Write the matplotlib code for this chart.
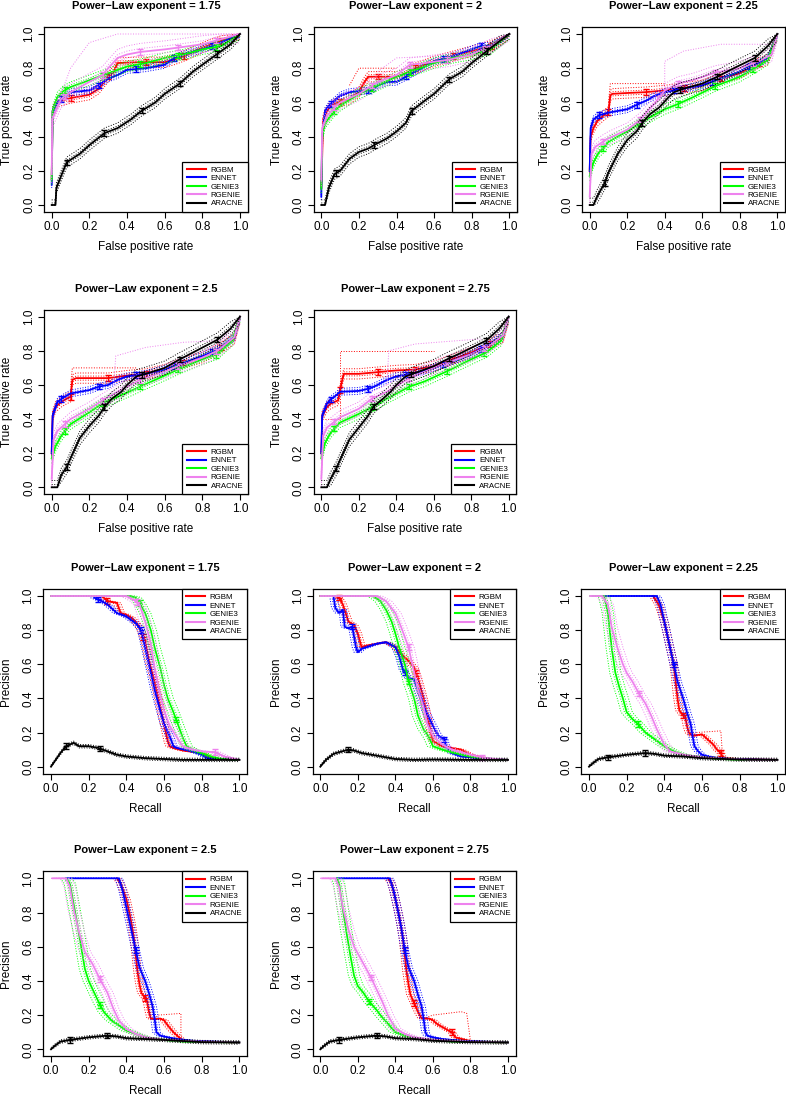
import numpy as np
import matplotlib
matplotlib.use('Agg')
import matplotlib.pyplot as plt
from matplotlib.lines import Line2D

plt.rcParams['font.family'] = ['Liberation Sans', 'DejaVu Sans']

methods = ['RGBM', 'ENNET', 'GENIE3', 'RGENIE', 'ARACNE']
colors = ['#FF0000', '#0000FF', '#00FF00', '#EE82EE', '#000000']

# ---- ROC curves (FPR, TPR) ----
roc_175 = {
    'RGBM': [(0, 0.15), (0.005, 0.55), (0.03, 0.6), (0.05, 0.61), (0.1, 0.625), (0.2, 0.645), (0.25, 0.68), (0.3, 0.75), (0.33, 0.78), (0.35, 0.83), (0.45, 0.835), (0.6, 0.835), (0.65, 0.85), (0.7, 0.87), (0.8, 0.92), (0.9, 0.96), (1, 1)],
    'ENNET': [(0, 0.12), (0.005, 0.55), (0.03, 0.6), (0.05, 0.62), (0.1, 0.66), (0.2, 0.67), (0.25, 0.7), (0.3, 0.74), (0.35, 0.76), (0.4, 0.79), (0.5, 0.8), (0.6, 0.82), (0.65, 0.86), (0.7, 0.88), (0.8, 0.91), (0.9, 0.95), (1, 1)],
    'GENIE3': [(0, 0.15), (0.005, 0.55), (0.03, 0.63), (0.06, 0.665), (0.1, 0.69), (0.2, 0.73), (0.3, 0.77), (0.4, 0.81), (0.5, 0.83), (0.6, 0.86), (0.7, 0.88), (0.8, 0.91), (0.9, 0.93), (1, 1)],
    'RGENIE': [(0, 0.18), (0.003, 0.5), (0.05, 0.62), (0.1, 0.66), (0.2, 0.72), (0.27, 0.76), (0.3, 0.8), (0.35, 0.86), (0.4, 0.88), (0.47, 0.895), (0.6, 0.91), (0.67, 0.92), (0.8, 0.94), (0.9, 0.97), (1, 1)],
    'ARACNE': [(0, 0), (0.02, 0), (0.025, 0.1), (0.05, 0.17), (0.08, 0.25), (0.15, 0.3), (0.2, 0.35), (0.28, 0.42), (0.35, 0.45), (0.42, 0.5), (0.47, 0.545), (0.55, 0.6), (0.6, 0.65), (0.68, 0.71), (0.75, 0.78), (0.85, 0.86), (0.9, 0.9), (0.95, 0.94), (1, 1)],
}
roc_200 = {
    'RGBM': [(0, 0.1), (0.01, 0.5), (0.03, 0.55), (0.05, 0.58), (0.1, 0.605), (0.15, 0.62), (0.2, 0.66), (0.23, 0.72), (0.25, 0.75), (0.3, 0.75), (0.4, 0.75), (0.45, 0.77), (0.5, 0.8), (0.6, 0.84), (0.7, 0.87), (0.8, 0.9), (0.9, 0.93), (1, 1)],
    'ENNET': [(0, 0.05), (0.005, 0.4), (0.02, 0.55), (0.04, 0.58), (0.07, 0.61), (0.1, 0.64), (0.15, 0.66), (0.2, 0.665), (0.27, 0.67), (0.3, 0.7), (0.35, 0.72), (0.4, 0.72), (0.45, 0.75), (0.5, 0.78), (0.6, 0.84), (0.7, 0.87), (0.8, 0.91), (0.85, 0.93), (0.9, 0.93), (1, 1)],
    'GENIE3': [(0, 0.1), (0.005, 0.4), (0.02, 0.48), (0.07, 0.55), (0.1, 0.58), (0.2, 0.65), (0.3, 0.7), (0.4, 0.75), (0.5, 0.79), (0.6, 0.83), (0.7, 0.86), (0.8, 0.88), (0.9, 0.91), (1, 1)],
    'RGENIE': [(0, 0.15), (0.005, 0.45), (0.03, 0.52), (0.07, 0.57), (0.1, 0.6), (0.2, 0.65), (0.3, 0.72), (0.4, 0.76), (0.47, 0.82), (0.55, 0.83), (0.68, 0.85), (0.8, 0.88), (0.9, 0.93), (1, 1)],
    'ARACNE': [(0, 0), (0.02, 0), (0.04, 0.1), (0.07, 0.18), (0.1, 0.2), (0.15, 0.27), (0.2, 0.31), (0.25, 0.33), (0.28, 0.35), (0.35, 0.39), (0.4, 0.43), (0.45, 0.48), (0.48, 0.55), (0.55, 0.61), (0.6, 0.65), (0.68, 0.735), (0.75, 0.78), (0.8, 0.83), (0.88, 0.9), (0.95, 0.96), (1, 1)],
}
roc_225 = {
    'RGBM': [(0, 0.2), (0.005, 0.4), (0.02, 0.45), (0.04, 0.49), (0.07, 0.52), (0.1, 0.545), (0.11, 0.64), (0.12, 0.65), (0.2, 0.655), (0.3, 0.66), (0.4, 0.67), (0.5, 0.685), (0.6, 0.7), (0.7, 0.74), (0.8, 0.77), (0.9, 0.83), (0.95, 0.85), (1, 1)],
    'ENNET': [(0, 0.2), (0.005, 0.45), (0.02, 0.5), (0.05, 0.525), (0.1, 0.54), (0.2, 0.56), (0.25, 0.585), (0.3, 0.61), (0.35, 0.64), (0.4, 0.66), (0.5, 0.68), (0.6, 0.7), (0.7, 0.74), (0.8, 0.78), (0.85, 0.81), (0.9, 0.83), (0.95, 0.86), (1, 1)],
    'GENIE3': [(0, 0.17), (0.02, 0.25), (0.05, 0.31), (0.07, 0.33), (0.1, 0.37), (0.2, 0.43), (0.3, 0.5), (0.4, 0.56), (0.47, 0.59), (0.55, 0.63), (0.67, 0.695), (0.8, 0.75), (0.88, 0.8), (0.95, 0.85), (1, 1)],
    'RGENIE': [(0, 0.05), (0.01, 0.3), (0.03, 0.34), (0.07, 0.37), (0.1, 0.39), (0.2, 0.44), (0.27, 0.5), (0.35, 0.6), (0.4, 0.67), (0.47, 0.71), (0.55, 0.73), (0.67, 0.775), (0.8, 0.8), (0.9, 0.84), (0.97, 0.88), (1, 1)],
    'ARACNE': [(0, 0), (0.02, 0), (0.04, 0.05), (0.08, 0.13), (0.1, 0.19), (0.15, 0.3), (0.2, 0.38), (0.25, 0.43), (0.28, 0.48), (0.32, 0.53), (0.37, 0.57), (0.42, 0.63), (0.45, 0.66), (0.5, 0.68), (0.6, 0.71), (0.68, 0.75), (0.75, 0.79), (0.88, 0.86), (0.95, 0.93), (1, 1)],
}
roc_250 = {
    'RGBM': [(0, 0.2), (0.005, 0.42), (0.02, 0.47), (0.05, 0.5), (0.08, 0.52), (0.1, 0.53), (0.11, 0.63), (0.13, 0.64), (0.3, 0.64), (0.4, 0.655), (0.5, 0.665), (0.6, 0.69), (0.7, 0.73), (0.8, 0.76), (0.9, 0.82), (0.97, 0.87), (1, 1)],
    'ENNET': [(0, 0.2), (0.005, 0.42), (0.03, 0.5), (0.06, 0.525), (0.1, 0.55), (0.2, 0.57), (0.25, 0.59), (0.3, 0.6), (0.35, 0.63), (0.4, 0.65), (0.5, 0.665), (0.6, 0.69), (0.7, 0.73), (0.8, 0.77), (0.9, 0.82), (0.97, 0.88), (1, 1)],
    'GENIE3': [(0, 0.17), (0.02, 0.24), (0.05, 0.3), (0.07, 0.33), (0.1, 0.37), (0.2, 0.44), (0.28, 0.5), (0.35, 0.53), (0.47, 0.59), (0.55, 0.63), (0.67, 0.69), (0.8, 0.75), (0.88, 0.78), (0.96, 0.86), (1, 1)],
    'RGENIE': [(0, 0.05), (0.01, 0.28), (0.03, 0.33), (0.07, 0.37), (0.1, 0.4), (0.2, 0.46), (0.27, 0.51), (0.35, 0.56), (0.47, 0.63), (0.6, 0.68), (0.67, 0.71), (0.8, 0.76), (0.88, 0.8), (0.97, 0.88), (1, 1)],
    'ARACNE': [(0, 0), (0.03, 0), (0.05, 0.07), (0.08, 0.12), (0.1, 0.17), (0.15, 0.29), (0.2, 0.36), (0.25, 0.42), (0.28, 0.47), (0.32, 0.52), (0.37, 0.56), (0.4, 0.6), (0.45, 0.65), (0.5, 0.665), (0.6, 0.7), (0.68, 0.75), (0.75, 0.79), (0.88, 0.865), (0.95, 0.93), (1, 1)],
}
roc_275 = {
    'RGBM': [(0, 0.2), (0.005, 0.42), (0.03, 0.47), (0.05, 0.49), (0.09, 0.51), (0.1, 0.57), (0.11, 0.62), (0.12, 0.665), (0.2, 0.665), (0.3, 0.675), (0.4, 0.685), (0.5, 0.69), (0.6, 0.71), (0.7, 0.75), (0.8, 0.79), (0.9, 0.84), (0.97, 0.88), (1, 1)],
    'ENNET': [(0, 0.2), (0.005, 0.42), (0.03, 0.49), (0.05, 0.515), (0.08, 0.54), (0.1, 0.56), (0.2, 0.565), (0.26, 0.58), (0.3, 0.6), (0.35, 0.63), (0.4, 0.65), (0.5, 0.67), (0.6, 0.7), (0.7, 0.74), (0.8, 0.78), (0.9, 0.84), (0.97, 0.89), (1, 1)],
    'GENIE3': [(0, 0.17), (0.02, 0.26), (0.05, 0.32), (0.07, 0.345), (0.1, 0.38), (0.2, 0.43), (0.27, 0.47), (0.35, 0.52), (0.47, 0.59), (0.55, 0.62), (0.67, 0.68), (0.8, 0.75), (0.88, 0.79), (0.96, 0.86), (1, 1)],
    'RGENIE': [(0, 0.05), (0.01, 0.3), (0.03, 0.35), (0.07, 0.385), (0.1, 0.41), (0.2, 0.46), (0.27, 0.52), (0.35, 0.56), (0.47, 0.64), (0.6, 0.7), (0.67, 0.73), (0.8, 0.78), (0.88, 0.82), (0.97, 0.89), (1, 1)],
    'ARACNE': [(0, 0), (0.03, 0), (0.05, 0.05), (0.08, 0.11), (0.1, 0.16), (0.15, 0.28), (0.2, 0.35), (0.25, 0.42), (0.28, 0.475), (0.33, 0.52), (0.37, 0.56), (0.4, 0.6), (0.45, 0.65), (0.5, 0.67), (0.6, 0.71), (0.68, 0.755), (0.75, 0.79), (0.88, 0.86), (0.95, 0.93), (1, 1)],
}

# ---- precision / recall curves ----
pr_175 = {
    'RGBM': [(0, 1), (0.27, 1), (0.3, 0.97), (0.35, 0.96), (0.37, 0.9), (0.4, 0.89), (0.43, 0.87), (0.47, 0.82), (0.5, 0.73), (0.52, 0.62), (0.55, 0.5), (0.58, 0.35), (0.6, 0.25), (0.62, 0.15), (0.63, 0.12), (0.65, 0.11), (0.7, 0.095), (0.8, 0.08), (0.85, 0.05), (0.9, 0.045), (1, 0.04)],
    'ENNET': [(0.23, 0.99), (0.27, 0.97), (0.3, 0.95), (0.35, 0.9), (0.4, 0.88), (0.45, 0.84), (0.48, 0.8), (0.5, 0.7), (0.52, 0.6), (0.55, 0.45), (0.58, 0.33), (0.6, 0.25), (0.63, 0.18), (0.65, 0.12), (0.67, 0.11), (0.75, 0.09), (0.8, 0.07), (0.83, 0.05), (0.9, 0.045), (1, 0.04)],
    'GENIE3': [(0, 1), (0.42, 1), (0.45, 0.99), (0.47, 0.96), (0.5, 0.9), (0.53, 0.8), (0.55, 0.7), (0.58, 0.58), (0.6, 0.48), (0.62, 0.4), (0.65, 0.32), (0.67, 0.26), (0.7, 0.17), (0.72, 0.12), (0.75, 0.1), (0.8, 0.08), (0.85, 0.06), (0.9, 0.045), (1, 0.04)],
    'RGENIE': [(0, 1), (0.4, 1), (0.45, 0.97), (0.47, 0.95), (0.5, 0.85), (0.53, 0.72), (0.55, 0.58), (0.58, 0.42), (0.6, 0.33), (0.63, 0.24), (0.67, 0.17), (0.7, 0.12), (0.75, 0.1), (0.8, 0.09), (0.87, 0.085), (0.92, 0.06), (1, 0.04)],
    'ARACNE': [(0, 0), (0.05, 0.08), (0.08, 0.12), (0.1, 0.13), (0.12, 0.14), (0.15, 0.12), (0.2, 0.12), (0.25, 0.11), (0.3, 0.09), (0.35, 0.07), (0.4, 0.06), (0.5, 0.05), (0.6, 0.045), (0.7, 0.04), (0.8, 0.04), (1, 0.04)],
}
pr_200 = {
    'RGBM': [(0, 1), (0.08, 1), (0.1, 0.99), (0.12, 0.95), (0.15, 0.85), (0.18, 0.83), (0.2, 0.78), (0.22, 0.7), (0.25, 0.71), (0.3, 0.72), (0.35, 0.73), (0.4, 0.7), (0.43, 0.66), (0.47, 0.62), (0.5, 0.58), (0.52, 0.52), (0.55, 0.4), (0.57, 0.3), (0.59, 0.2), (0.6, 0.15), (0.65, 0.12), (0.7, 0.11), (0.75, 0.1), (0.8, 0.07), (0.9, 0.045), (1, 0.04)],
    'ENNET': [(0.07, 1), (0.08, 0.93), (0.1, 0.9), (0.12, 0.92), (0.13, 0.82), (0.15, 0.81), (0.17, 0.82), (0.19, 0.7), (0.2, 0.67), (0.22, 0.69), (0.3, 0.72), (0.35, 0.73), (0.4, 0.7), (0.42, 0.65), (0.44, 0.57), (0.47, 0.52), (0.5, 0.51), (0.53, 0.42), (0.56, 0.33), (0.6, 0.24), (0.63, 0.18), (0.66, 0.16), (0.67, 0.12), (0.7, 0.08), (0.75, 0.06), (0.85, 0.05), (1, 0.04)],
    'GENIE3': [(0, 1), (0.28, 1), (0.32, 0.97), (0.35, 0.92), (0.38, 0.85), (0.4, 0.78), (0.42, 0.7), (0.45, 0.6), (0.47, 0.5), (0.5, 0.4), (0.52, 0.3), (0.55, 0.22), (0.58, 0.17), (0.6, 0.12), (0.65, 0.1), (0.7, 0.085), (0.8, 0.06), (0.9, 0.045), (1, 0.04)],
    'RGENIE': [(0, 1), (0.3, 1), (0.35, 0.97), (0.4, 0.9), (0.43, 0.82), (0.47, 0.7), (0.5, 0.55), (0.52, 0.45), (0.55, 0.35), (0.57, 0.25), (0.6, 0.18), (0.65, 0.13), (0.7, 0.1), (0.8, 0.07), (0.88, 0.05), (1, 0.04)],
    'ARACNE': [(0, 0), (0.03, 0.04), (0.07, 0.075), (0.1, 0.085), (0.15, 0.1), (0.18, 0.095), (0.22, 0.08), (0.3, 0.065), (0.35, 0.055), (0.4, 0.045), (0.5, 0.04), (0.6, 0.042), (0.8, 0.04), (1, 0.04)],
}
pr_225 = {
    'RGBM': [(0.34, 1), (0.37, 0.95), (0.4, 0.85), (0.42, 0.75), (0.44, 0.65), (0.45, 0.6), (0.46, 0.5), (0.47, 0.4), (0.48, 0.33), (0.5, 0.3), (0.51, 0.3), (0.52, 0.24), (0.53, 0.2), (0.55, 0.18), (0.6, 0.19), (0.63, 0.16), (0.66, 0.13), (0.68, 0.1), (0.7, 0.08), (0.71, 0.05), (0.8, 0.045), (1, 0.04)],
    'ENNET': [(0.08, 1), (0.36, 1), (0.38, 0.95), (0.4, 0.85), (0.42, 0.75), (0.44, 0.65), (0.45, 0.6), (0.47, 0.5), (0.5, 0.4), (0.52, 0.32), (0.54, 0.25), (0.55, 0.18), (0.56, 0.12), (0.58, 0.09), (0.6, 0.07), (0.65, 0.055), (0.75, 0.045), (1, 0.04)],
    'GENIE3': [(0.02, 1), (0.08, 1), (0.1, 0.9), (0.12, 0.7), (0.14, 0.55), (0.16, 0.47), (0.18, 0.4), (0.2, 0.32), (0.23, 0.28), (0.26, 0.25), (0.3, 0.2), (0.35, 0.16), (0.4, 0.12), (0.45, 0.09), (0.5, 0.07), (0.6, 0.055), (0.7, 0.045), (0.8, 0.04), (1, 0.04)],
    'RGENIE': [(0.01, 1), (0.07, 1), (0.1, 0.95), (0.12, 0.82), (0.15, 0.7), (0.18, 0.6), (0.2, 0.55), (0.23, 0.5), (0.27, 0.42), (0.3, 0.37), (0.33, 0.3), (0.36, 0.22), (0.4, 0.13), (0.43, 0.09), (0.5, 0.07), (0.6, 0.055), (0.75, 0.045), (0.88, 0.04), (1, 0.04)],
    'ARACNE': [(0, 0), (0.02, 0.02), (0.05, 0.045), (0.1, 0.055), (0.2, 0.07), (0.25, 0.075), (0.3, 0.08), (0.35, 0.075), (0.4, 0.065), (0.5, 0.06), (0.6, 0.05), (0.8, 0.042), (1, 0.04)],
}
pr_250 = {
    'RGBM': [(0.35, 1), (0.37, 0.97), (0.4, 0.88), (0.42, 0.78), (0.43, 0.72), (0.44, 0.65), (0.45, 0.55), (0.46, 0.45), (0.47, 0.38), (0.48, 0.33), (0.5, 0.3), (0.51, 0.28), (0.52, 0.22), (0.53, 0.18), (0.55, 0.175), (0.58, 0.18), (0.6, 0.17), (0.62, 0.14), (0.65, 0.1), (0.68, 0.07), (0.7, 0.05), (0.8, 0.045), (1, 0.04)],
    'ENNET': [(0.08, 1), (0.36, 1), (0.38, 0.93), (0.4, 0.83), (0.42, 0.73), (0.44, 0.63), (0.45, 0.58), (0.47, 0.48), (0.5, 0.4), (0.52, 0.33), (0.54, 0.25), (0.55, 0.18), (0.56, 0.1), (0.58, 0.08), (0.62, 0.07), (0.67, 0.06), (0.75, 0.05), (1, 0.04)],
    'GENIE3': [(0.08, 1), (0.1, 0.97), (0.12, 0.85), (0.14, 0.73), (0.16, 0.6), (0.18, 0.47), (0.2, 0.4), (0.23, 0.33), (0.26, 0.26), (0.28, 0.22), (0.32, 0.17), (0.36, 0.14), (0.4, 0.11), (0.45, 0.09), (0.5, 0.07), (0.6, 0.055), (0.7, 0.045), (1, 0.04)],
    'RGENIE': [(0.01, 1), (0.08, 1), (0.1, 0.95), (0.12, 0.82), (0.15, 0.68), (0.18, 0.57), (0.22, 0.5), (0.26, 0.41), (0.3, 0.33), (0.33, 0.24), (0.36, 0.17), (0.4, 0.12), (0.45, 0.09), (0.5, 0.07), (0.6, 0.055), (0.8, 0.045), (1, 0.04)],
    'ARACNE': [(0, 0), (0.02, 0.02), (0.05, 0.045), (0.1, 0.055), (0.2, 0.07), (0.25, 0.075), (0.3, 0.08), (0.35, 0.075), (0.4, 0.065), (0.5, 0.06), (0.6, 0.055), (0.8, 0.042), (1, 0.04)],
}
pr_275 = {
    'RGBM': [(0.36, 1), (0.38, 0.97), (0.4, 0.88), (0.42, 0.78), (0.44, 0.65), (0.45, 0.55), (0.46, 0.45), (0.47, 0.38), (0.48, 0.32), (0.5, 0.27), (0.52, 0.22), (0.54, 0.18), (0.58, 0.18), (0.6, 0.17), (0.62, 0.15), (0.65, 0.13), (0.7, 0.1), (0.72, 0.07), (0.79, 0.05), (0.8, 0.045), (1, 0.04)],
    'ENNET': [(0.09, 1), (0.37, 1), (0.39, 0.93), (0.41, 0.83), (0.43, 0.72), (0.45, 0.58), (0.47, 0.48), (0.5, 0.4), (0.52, 0.32), (0.54, 0.25), (0.55, 0.18), (0.56, 0.1), (0.57, 0.08), (0.6, 0.07), (0.65, 0.06), (0.75, 0.05), (1, 0.04)],
    'GENIE3': [(0.09, 1), (0.1, 0.97), (0.12, 0.82), (0.14, 0.68), (0.16, 0.55), (0.18, 0.43), (0.2, 0.37), (0.23, 0.33), (0.26, 0.28), (0.3, 0.23), (0.32, 0.2), (0.36, 0.15), (0.4, 0.1), (0.45, 0.08), (0.5, 0.065), (0.6, 0.055), (0.7, 0.045), (1, 0.04)],
    'RGENIE': [(0.01, 1), (0.08, 1), (0.1, 0.95), (0.12, 0.83), (0.15, 0.7), (0.18, 0.6), (0.22, 0.52), (0.27, 0.42), (0.3, 0.35), (0.33, 0.28), (0.36, 0.2), (0.4, 0.12), (0.45, 0.09), (0.5, 0.07), (0.6, 0.055), (0.8, 0.045), (1, 0.04)],
    'ARACNE': [(0, 0), (0.02, 0.02), (0.05, 0.045), (0.1, 0.055), (0.2, 0.07), (0.25, 0.075), (0.3, 0.08), (0.35, 0.075), (0.4, 0.065), (0.5, 0.06), (0.6, 0.05), (0.8, 0.042), (1, 0.04)],
}

# spread of the replicate (dotted) curves, per method
roc_spread = {'1.75': [0.03, 0.02, 0.03, 0.05, 0.03], '2': [0.03, 0.02, 0.03, 0.04, 0.03],
              '2.25': [0.03, 0.02, 0.03, 0.04, 0.04], '2.5': [0.03, 0.02, 0.03, 0.04, 0.04],
              '2.75': [0.03, 0.02, 0.03, 0.04, 0.04]}
pr_spread = {'1.75': [0.02, 0.02, 0.03, 0.03, 0.01], '2': [0.02, 0.02, 0.03, 0.03, 0.01],
             '2.25': [0.02, 0.02, 0.03, 0.03, 0.01], '2.5': [0.02, 0.02, 0.03, 0.03, 0.01],
             '2.75': [0.02, 0.02, 0.03, 0.03, 0.01]}

# individual replicate curves that stand out
outliers = {
    ('roc', '1.75'): [('RGENIE', [(0, 0.5), (0.1, 0.8), (0.2, 0.95), (0.35, 1.0), (1, 1)])],
    ('roc', '2'): [('RGENIE', [(0.3, 0.78), (0.35, 0.82), (0.4, 0.86), (0.6, 0.87), (0.9, 0.93)]),
                   ('RGBM', [(0.15, 0.7), (0.2, 0.8), (0.3, 0.8), (0.4, 0.8)])],
    ('roc', '2.25'): [('RGENIE', [(0.4, 0.6), (0.4, 0.84), (0.5, 0.9), (0.7, 0.94), (0.97, 0.94), (1, 1)]),
                      ('RGBM', [(0.1, 0.6), (0.11, 0.71), (0.4, 0.71)])],
    ('roc', '2.5'): [('RGENIE', [(0.33, 0.6), (0.34, 0.77), (0.5, 0.82), (0.7, 0.85), (0.9, 0.86), (1, 1)]),
                     ('RGBM', [(0.1, 0.6), (0.11, 0.7), (0.45, 0.7)])],
    ('roc', '2.75'): [('RGBM', [(0.1, 0.5), (0.1, 0.8), (0.35, 0.8), (0.6, 0.8)]),
                      ('RGBM', [(0.02, 0.4), (0.1, 0.4), (0.1, 0.5)]),
                      ('RGENIE', [(0.35, 0.6), (0.36, 0.8), (0.5, 0.84), (0.85, 0.87)])],
    ('pr', '2.25'): [('RGBM', [(0.55, 0.18), (0.57, 0.2), (0.7, 0.21), (0.71, 0.05)])],
    ('pr', '2.5'): [('RGBM', [(0.55, 0.18), (0.57, 0.2), (0.69, 0.21), (0.69, 0.05)])],
    ('pr', '2.75'): [('RGBM', [(0.55, 0.18), (0.6, 0.2), (0.75, 0.22), (0.78, 0.21), (0.8, 0.05)])],
}

# x positions of the error bars
roc_err_x = {'RGBM': [0.1, 0.3, 0.5, 0.7, 0.9], 'ENNET': [0.05, 0.25, 0.45, 0.65, 0.85],
             'GENIE3': [0.07, 0.27, 0.47, 0.67, 0.87], 'RGENIE': [0.07, 0.27, 0.47, 0.67, 0.87],
             'ARACNE': [0.08, 0.28, 0.48, 0.68, 0.88]}
pr_err_x = {
    '1.75': {'RGBM': [0.3, 0.49], 'ENNET': [0.25, 0.48], 'GENIE3': [0.47, 0.665], 'RGENIE': [0.455, 0.87], 'ARACNE': [0.08, 0.26]},
    '2': {'RGBM': [0.1, 0.51], 'ENNET': [0.17, 0.45, 0.66], 'GENIE3': [0.47], 'RGENIE': [0.47, 0.86], 'ARACNE': [0.15]},
    '2.25': {'RGBM': [0.45, 0.5, 0.7], 'ENNET': [0.45], 'GENIE3': [0.26], 'RGENIE': [0.265], 'ARACNE': [0.1, 0.3]},
    '2.5': {'RGBM': [0.5], 'ENNET': [0.45], 'GENIE3': [0.26], 'RGENIE': [0.26], 'ARACNE': [0.1, 0.3]},
    '2.75': {'RGBM': [0.5, 0.7], 'ENNET': [0.45], 'GENIE3': [0.26], 'RGENIE': [0.27], 'ARACNE': [0.1, 0.3]},
}

W, H = 786, 1102
fig = plt.figure(figsize=(W / 100, H / 100), dpi=100)


def make_axes(x0, x1, ytop, ybot):
    sx, sy = x1 - x0, ybot - ytop
    left, top = x0 - 0.04 * sx, ytop - 0.04 * sy
    ax = fig.add_axes([left / W, 1 - (top + 1.08 * sy) / H, 1.08 * sx / W, 1.08 * sy / H])
    ax.set_xlim(-0.04, 1.04)
    ax.set_ylim(-0.04, 1.04)
    return ax, (left, top, left + 1.08 * sx, top + 1.08 * sy)


def draw_panel(kind, expo, curves, box):
    ax, (l, t, r, b) = make_axes(*box)
    spread = (roc_spread if kind == 'roc' else pr_spread)[expo]
    for i, m in enumerate(methods):
        pts = np.array(curves[m], dtype=float)
        x, y = pts[:, 0], pts[:, 1]
        d = spread[i]
        for f in (-1, -0.4, 0.4, 1):
            if kind == 'roc' or m == 'ARACNE':
                ax.plot(x, np.clip(y + f * d, 0, 1), ':', color=colors[i], lw=0.7)
            else:
                ax.plot(np.clip(x + f * d, 0, 1), y, ':', color=colors[i], lw=0.7)
        for name, o in outliers.get((kind, expo), []):
            if name == m:
                o = np.array(o)
                ax.plot(o[:, 0], o[:, 1], ':', color=colors[i], lw=0.7)
        ax.plot(x, y, '-', color=colors[i], lw=1.3)
        ex = np.array(roc_err_x[m] if kind == 'roc' else pr_err_x[expo][m])
        ey = np.interp(ex, x, y)
        ax.errorbar(ex, ey, yerr=0.016, fmt='none', ecolor=colors[i],
                    elinewidth=1.0, capsize=2.2, capthick=1.0)
        if kind == 'pr':
            ax.errorbar(ex, ey, xerr=0.015, fmt='none', ecolor=colors[i],
                        elinewidth=1.0, capsize=0)

    ax.set_xticks([0, 0.2, 0.4, 0.6, 0.8, 1.0])
    ax.set_yticks([0, 0.2, 0.4, 0.6, 0.8, 1.0])
    ax.set_xticklabels(['0.0', '0.2', '0.4', '0.6', '0.8', '1.0'])
    ax.set_yticklabels(['0.0', '0.2', '0.4', '0.6', '0.8', '1.0'], rotation=90, va='center')
    ax.tick_params(direction='out', length=4, width=0.8, labelsize=8.5, pad=2.5)
    for s in ax.spines.values():
        s.set_linewidth(0.9)

    handles = [Line2D([], [], color=c, lw=1.5) for c in colors]
    loc = 'lower right' if kind == 'roc' else 'upper right'
    leg = ax.legend(handles, methods, loc=loc, borderaxespad=0, fancybox=False, edgecolor='black',
                    framealpha=1, fontsize=5.7, handlelength=2.4, handletextpad=0.6,
                    labelspacing=0.12, borderpad=0.55)
    leg.get_frame().set_linewidth(0.9)

    cx = (l + r) / 2
    cy = (t + b) / 2
    fig.text(cx / W, 1 - (t - 21) / H, 'Power\u2212Law exponent = ' + expo, ha='center', va='center',
             fontsize=8, fontweight='bold')
    fig.text(cx / W, 1 - (b + 35) / H, 'False positive rate' if kind == 'roc' else 'Recall',
             ha='center', va='center', fontsize=8.5)
    fig.text((l - 37) / W, 1 - cy / H, 'True positive rate' if kind == 'roc' else 'Precision',
             ha='center', va='center', rotation=90, fontsize=8.5)


draw_panel('roc', '1.75', roc_175, (51.7, 240, 34, 205))
draw_panel('roc', '2', roc_200, (321.3, 509.3, 34, 205))
draw_panel('roc', '2.25', roc_225, (589.7, 777.3, 34, 205))
draw_panel('roc', '2.5', roc_250, (51.7, 240, 316.7, 487.3))
draw_panel('roc', '2.75', roc_275, (321.3, 508.7, 316.7, 487.3))
draw_panel('pr', '1.75', pr_175, (51, 239.3, 596, 766.7))
draw_panel('pr', '2', pr_200, (320.3, 508, 596, 766.7))
draw_panel('pr', '2.25', pr_225, (589, 777.3, 596, 766.7))
draw_panel('pr', '2.5', pr_250, (51, 239.3, 878.3, 1049.3))
draw_panel('pr', '2.75', pr_275, (320.3, 508, 878.3, 1049.3))

fig.savefig('out.png', dpi=100)
